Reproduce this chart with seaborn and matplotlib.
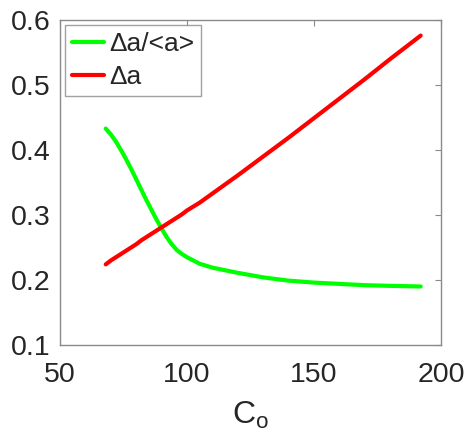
import matplotlib
matplotlib.use("Agg")
import matplotlib.pyplot as plt
import seaborn as sns
import pandas as pd

c0 = [68, 70, 72, 74, 76, 78, 80, 82, 84, 86, 88, 90, 92, 94, 96, 98, 100, 105, 110,
      120, 130, 140, 150, 160, 170, 180, 192]
rel_spread = [0.433, 0.424, 0.413, 0.400, 0.386, 0.371, 0.355, 0.339, 0.323, 0.308,
              0.293, 0.279, 0.266, 0.255, 0.246, 0.240, 0.235, 0.225, 0.219,
              0.211, 0.204, 0.199, 0.196, 0.194, 0.192, 0.191, 0.190]
abs_spread = [0.224, 0.230, 0.235, 0.240, 0.245, 0.250, 0.255, 0.261, 0.266, 0.271,
              0.276, 0.281, 0.286, 0.291, 0.296, 0.301, 0.307, 0.319, 0.333,
              0.361, 0.390, 0.419, 0.449, 0.479, 0.509, 0.540, 0.576]
series_names = ["\u0394a/<a>", "\u0394a"]
x_ticks = [50, 100, 150, 200]
y_ticks = [0.1, 0.2, 0.3, 0.4, 0.5, 0.6]

df = pd.DataFrame({
    "C0": c0 * 2,
    "value": rel_spread + abs_spread,
    "series": [series_names[0]] * len(c0) + [series_names[1]] * len(c0),
})

sns.set_style("white")
plt.rcParams["font.family"] = ["Liberation Sans", "DejaVu Sans"]
plt.rcParams["mathtext.fontset"] = "custom"
plt.rcParams["mathtext.rm"] = "Liberation Sans"
plt.rcParams["mathtext.it"] = "Liberation Sans"

fig = plt.figure(figsize=(4.66, 4.43), dpi=100)
ax = fig.add_axes([60/466, 1 - 345/443, (441-60)/466, (345-20)/443])

sns.lineplot(data=df, x="C0", y="value", hue="series", hue_order=series_names,
             palette=["#00ff00", "#ff0000"], linewidth=3, ax=ax, sort=False)

ax.set_xlim(50, 200)
ax.set_ylim(0.1, 0.6)
ax.set_xticks(x_ticks)
ax.set_xticklabels([str(t) for t in x_ticks])
ax.set_yticks(y_ticks)
ax.set_yticklabels([f"{t:.1f}" for t in y_ticks])

axis_col = "#8a8a8a"
text_col = "#262626"
for s in ax.spines.values():
    s.set_visible(True)
    s.set_color(axis_col)
    s.set_linewidth(1.0)
ax.tick_params(axis="both", which="both", direction="in", length=4, width=0.8,
               color=axis_col, labelcolor=text_col, labelsize=20.5,
               top=True, right=True)
ax.tick_params(axis="x", pad=12)
ax.tick_params(axis="y", pad=7)

ax.set_ylabel("")
ax.set_xlabel(r"C$_\mathrm{o}$", fontsize=23, color=text_col, labelpad=9)

leg = ax.legend(loc="upper left", fontsize=19, frameon=True, fancybox=False,
                handlelength=1.2, handletextpad=0.2, borderpad=0.25,
                labelspacing=0.35, borderaxespad=0.2)
leg.get_frame().set_edgecolor(axis_col)
leg.get_frame().set_linewidth(1.0)
for t in leg.get_texts():
    t.set_color(text_col)
for l in leg.get_lines():
    l.set_linewidth(3)

fig.savefig("out.png", dpi=100)
